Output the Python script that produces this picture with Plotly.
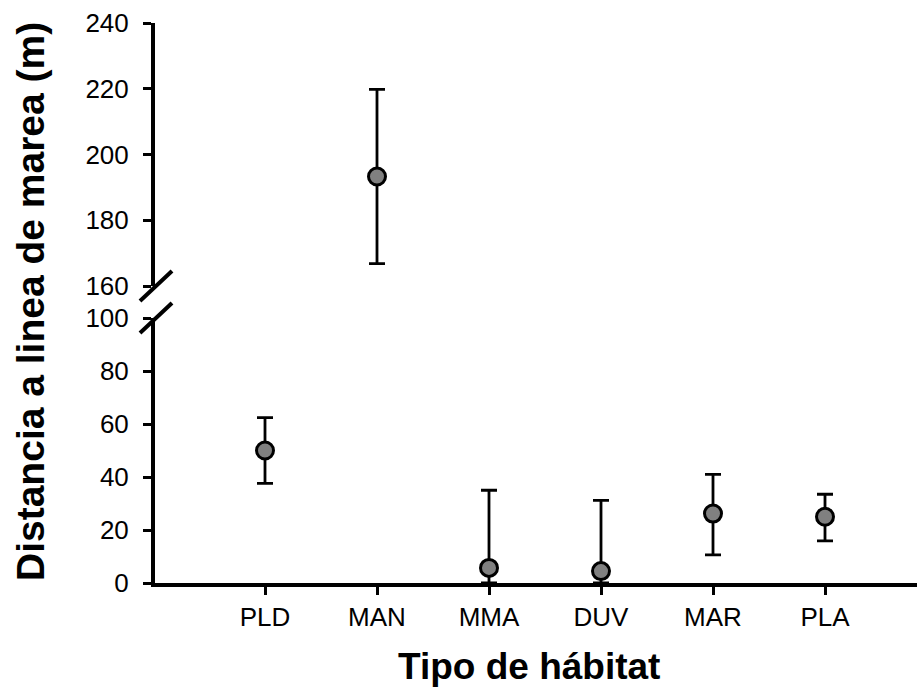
import plotly.graph_objects as go

categories = ["PLD", "MAN", "MMA", "DUV", "MAR", "PLA"]
means = [50.0, 193.3, 5.7, 4.5, 26.2, 25.0]
upper = [62.4, 219.8, 35.0, 31.2, 41.0, 33.5]
lower = [37.6, 166.8, 0.0, 0.0, 10.6, 15.9]

lower_ticks = [0, 20, 40, 60, 80, 100]
upper_ticks = [160, 180, 200, 220, 240]
break_value = 130

xpos = list(range(1, len(categories) + 1))
err_plus = [u - m for u, m in zip(upper, means)]
err_minus = [m - l for m, l in zip(means, lower)]

FONT = "Liberation Sans, Arial, sans-serif"

def subset(pred):
    idx = [i for i in range(len(means)) if pred(means[i])]
    return ([xpos[i] for i in idx], [means[i] for i in idx],
            [err_plus[i] for i in idx], [err_minus[i] for i in idx])

fig = go.Figure()
for yaxis_name, pred in (("y", lambda v: v < break_value), ("y2", lambda v: v >= break_value)):
    xs, ys, ep, em = subset(pred)
    fig.add_trace(go.Scatter(
        x=xs, y=ys, mode="markers", yaxis=yaxis_name, xaxis="x",
        marker=dict(size=17, color="#808080", line=dict(color="black", width=3)),
        error_y=dict(type="data", symmetric=False, array=ep, arrayminus=em,
                     color="black", thickness=2.8, width=8),
        showlegend=False, cliponaxis=True,
    ))

W, H = 917, 694
ml, mr, mt, mb = 155, 0, 23, 111
plot_h = H - mt - mb
low_top = (583 - 318) / plot_h
up_bot = (583 - 286) / plot_h
px_per_cat = 112.0
x0 = 1 - (265 - ml) / px_per_cat

axis_common = dict(showline=True, linecolor="black", linewidth=4, ticks="outside",
                   ticklen=8, tickwidth=3, tickcolor="black", showgrid=False,
                   zeroline=False, tickfont=dict(family=FONT, size=26, color="black"))

fig.update_layout(
    width=W, height=H, margin=dict(l=ml, r=mr, t=mt, b=mb),
    paper_bgcolor="white", plot_bgcolor="white",
    xaxis=dict(range=[x0, x0 + (W - ml) / px_per_cat], tickmode="array", tickvals=xpos,
               ticktext=categories, anchor="y", ticklabelstandoff=0, **axis_common),
    yaxis=dict(domain=[0, low_top], range=[0, 100], tickmode="array",
               tickvals=lower_ticks, anchor="x", ticklabelstandoff=9, **axis_common),
    yaxis2=dict(domain=[up_bot, 1], range=[160, 240], tickmode="array",
                tickvals=upper_ticks, anchor="x", ticklabelstandoff=9, **axis_common),
)

fig.add_annotation(text="<b>Distancia a linea de marea (m)</b>", textangle=-90,
                   xref="paper", yref="paper", x=(30 - ml) / (W - ml), y=(583 - 302) / plot_h,
                   xanchor="center", yanchor="middle", showarrow=False,
                   font=dict(family=FONT, size=39, color="black"))
fig.add_annotation(text="<b>Tipo de hábitat</b>",
                   xref="paper", yref="paper", x=(529 - ml) / (W - ml), y=(583 - 666) / plot_h,
                   xanchor="center", yanchor="middle", showarrow=False,
                   font=dict(family=FONT, size=37, color="black"))

# axis-break slashes (paper-referenced so they are not clipped)
for anchor in (up_bot, low_top):
    fig.add_shape(type="line", xref="paper", yref="paper", xsizemode="pixel", ysizemode="pixel",
                  xanchor=0, yanchor=anchor, x0=-15, x1=17, y0=-15, y1=15,
                  line=dict(color="black", width=4))

fig.write_html("out.html")
